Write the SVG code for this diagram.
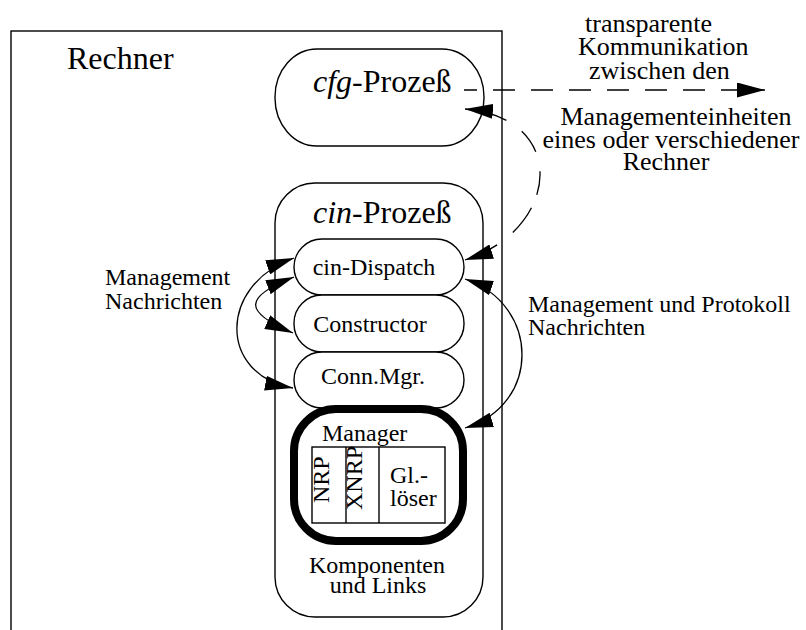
<svg xmlns="http://www.w3.org/2000/svg" width="806" height="630" viewBox="0 0 806 630">
  <style>
    .shape { fill: none; stroke: #000; stroke-width: 1.4; }
    .box { fill: #fff; stroke: #000; stroke-width: 1.4; }
    .conn { fill: none; stroke: #000; stroke-width: 1.3; }
    .label { font-family: "Liberation Serif", "Times New Roman", serif; fill: #000; }
    .big { font-size: 32px; }
    .mid { font-size: 26px; }
    .small { font-size: 24px; }
    .it { font-style: italic; }
  </style>
  <defs>
    <marker id="arrow" viewBox="0 0 28 15" refX="28" refY="7.5" markerWidth="28" markerHeight="15" markerUnits="userSpaceOnUse" orient="auto-start-reverse">
      <path d="M0,0 L28,7.5 L0,15 Z" fill="#000"/>
    </marker>
  </defs>

  <rect width="806" height="630" fill="#fff"/>

  <!-- host computer frame (continues below the bottom edge) -->
  <g id="rechner">
    <rect class="shape" x="11" y="31" width="491" height="640"/>
    <text class="label big" x="67" y="69">Rechner</text>
  </g>

  <g id="cfg-prozess">
    <rect class="box" x="275" y="49" width="209" height="97" rx="42" ry="48"/>
    <text class="label big" x="313" y="92"><tspan class="it">cfg</tspan>-Prozeß</text>
  </g>

  <g id="cin-prozess">
    <rect class="box" x="275" y="183" width="208" height="434" rx="40" ry="40"/>
    <text class="label big" x="313" y="223"><tspan class="it">cin</tspan>-Prozeß</text>
    <text class="label small" x="377" y="573" text-anchor="middle">Komponenten</text>
    <text class="label small" x="378" y="593" text-anchor="middle">und Links</text>
  </g>

  <g id="cin-dispatch">
    <rect class="box" x="294" y="239" width="170" height="56" rx="28" ry="28"/>
    <text class="label small" x="374" y="275" text-anchor="middle">cin-Dispatch</text>
  </g>

  <g id="constructor">
    <rect class="box" x="294" y="295" width="170" height="57" rx="28" ry="28"/>
    <text class="label small" x="370" y="332" text-anchor="middle">Constructor</text>
  </g>

  <g id="conn-mgr">
    <rect class="box" x="294" y="352" width="170" height="56" rx="28" ry="28"/>
    <text class="label small" x="373" y="384" text-anchor="middle">Conn.Mgr.</text>
  </g>

  <g id="manager">
    <rect x="294" y="409" width="169" height="132" rx="42" ry="42" fill="#fff" stroke="#000" stroke-width="8"/>
    <text class="label small" x="322" y="441">Manager</text>
    <rect class="shape" x="312" y="447" width="133" height="76"/>
    <line class="shape" x1="346" y1="447" x2="346" y2="523"/>
    <line class="shape" x1="379" y1="447" x2="379" y2="523"/>
    <text class="label small" transform="translate(329 503) rotate(-90)">NRP</text>
    <text class="label small" transform="translate(362 510) rotate(-90)">XNRP</text>
    <text class="label small" x="390" y="483">Gl.-</text>
    <text class="label small" x="390" y="506">löser</text>
  </g>

  <!-- connectors -->
  <g id="connectors">
    <path class="conn" d="M464,90 H765" stroke-dasharray="22 16" stroke-dashoffset="9" marker-end="url(#arrow)"/>
    <path class="conn" d="M465,109 C570,118 560,230 465,260" stroke-dasharray="43 19 25 20 24 14 31 20 60" marker-start="url(#arrow)" marker-end="url(#arrow)"/>
    <path class="conn" d="M294,258 C218,285 218,375 293,388" marker-start="url(#arrow)" marker-end="url(#arrow)"/>
    <path class="conn" d="M294,277 C243,297 243,312 293,333" marker-start="url(#arrow)" marker-end="url(#arrow)"/>
    <path class="conn" d="M465,279 C541,305 541,405 465,428" marker-start="url(#arrow)" marker-end="url(#arrow)"/>
  </g>

  <!-- connector labels -->
  <g id="labels">
    <text class="label mid" x="585" y="32">transparente</text>
    <text class="label mid" x="578" y="55">Kommunikation</text>
    <text class="label mid" x="589" y="79">zwischen den</text>
    <text class="label mid" x="676" y="125" text-anchor="middle">Managementeinheiten</text>
    <text class="label mid" x="671" y="148" text-anchor="middle">eines oder verschiedener</text>
    <text class="label mid" x="666" y="170" text-anchor="middle">Rechner</text>
    <text class="label small" x="105" y="285">Management</text>
    <text class="label small" x="105" y="309">Nachrichten</text>
    <text class="label small" x="528" y="312">Management und Protokoll</text>
    <text class="label small" x="528" y="335">Nachrichten</text>
  </g>
</svg>
